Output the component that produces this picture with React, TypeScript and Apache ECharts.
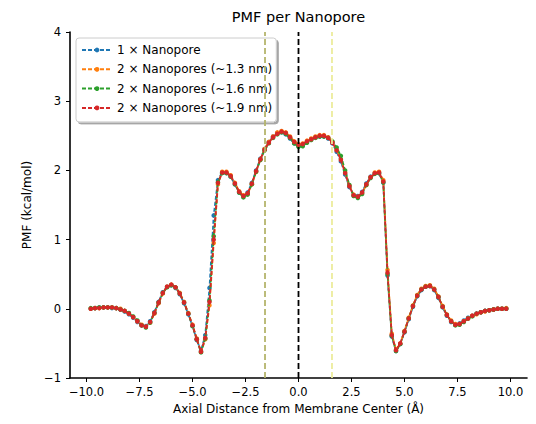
import React, { useEffect, useRef } from "react";
import * as echarts from "echarts";

const FONT = "DejaVu Sans";

const titleText = "PMF per Nanopore";
const xAxisName = "Axial Distance from Membrane Center (Å)";
const yAxisName = "PMF (kcal/mol)";

const seriesNames = [
  "1 × Nanopore",
  "2 × Nanopores (~1.3 nm)",
  "2 × Nanopores (~1.6 nm)",
  "2 × Nanopores (~1.9 nm)",
];
const seriesColors = ["#1f77b4", "#ff7f0e", "#2ca02c", "#d62728"];

const xTicks = [-10, -7.5, -5, -2.5, 0, 2.5, 5, 7.5, 10];
const yTicks = [-1, 0, 1, 2, 3, 4];

const vLinePositions = [-1.58, 0, 1.58];
const vLineColors = ["#b5b56c", "#000000", "#ecec9c"];

const xs = [
  -9.8, -9.6, -9.4, -9.2, -9.0, -8.8, -8.6, -8.4, -8.2, -8.0,
  -7.8, -7.6, -7.4, -7.2, -7.0, -6.8, -6.6, -6.4, -6.2, -6.0,
  -5.8, -5.6, -5.4, -5.2, -5.0, -4.8, -4.6, -4.4, -4.2, -4.0,
  -3.8, -3.6, -3.4, -3.2, -3.0, -2.8, -2.6, -2.4, -2.2, -2.0,
  -1.8, -1.6, -1.4, -1.2, -1.0, -0.8, -0.6, -0.4, -0.2, 0.0,
  0.2, 0.4, 0.6, 0.8, 1.0, 1.2, 1.4, 1.6, 1.8, 2.0,
  2.2, 2.4, 2.6, 2.8, 3.0, 3.2, 3.4, 3.6, 3.8, 4.0,
  4.2, 4.4, 4.6, 4.8, 5.0, 5.2, 5.4, 5.6, 5.8, 6.0,
  6.2, 6.4, 6.6, 6.8, 7.0, 7.2, 7.4, 7.6, 7.8, 8.0,
  8.2, 8.4, 8.6, 8.8, 9.0, 9.2, 9.4, 9.6, 9.8,
];

const pmfOne = [
  0.0, 0.01, 0.02, 0.02, 0.02, 0.01, 0.01, -0.01, -0.04, -0.08,
  -0.13, -0.19, -0.24, -0.25, -0.18, -0.05, 0.1, 0.24, 0.32, 0.34,
  0.3, 0.21, 0.08, -0.08, -0.25, -0.45, -0.61, -0.38, 0.3, 1.35,
  1.86, 1.97, 1.96, 1.91, 1.8, 1.68, 1.63, 1.68, 1.82, 2.0,
  2.17, 2.31, 2.41, 2.49, 2.54, 2.55, 2.52, 2.46, 2.39, 2.35,
  2.37, 2.41, 2.45, 2.48, 2.49, 2.49, 2.46, 2.39, 2.27, 2.13,
  1.94, 1.76, 1.64, 1.63, 1.69, 1.81, 1.91, 1.96, 1.96, 1.82,
  0.48, -0.4, -0.61, -0.51, -0.34, -0.15, 0.03, 0.18, 0.27, 0.32,
  0.33, 0.27, 0.16, 0.02, -0.1, -0.19, -0.23, -0.21, -0.17, -0.13,
  -0.1, -0.07, -0.05, -0.03, -0.02, -0.01, 0.0, 0.0, 0.0,
];

const pmfTwo13 = [
  0.0, 0.01, 0.01, 0.02, 0.02, 0.02, 0.01, 0.0, -0.03, -0.07,
  -0.12, -0.18, -0.23, -0.26, -0.2, -0.07, 0.08, 0.22, 0.32, 0.35,
  0.31, 0.23, 0.1, -0.06, -0.23, -0.43, -0.62, -0.44, 0.05, 0.95,
  1.8, 1.98, 1.98, 1.93, 1.82, 1.7, 1.64, 1.66, 1.8, 1.98,
  2.16, 2.31, 2.41, 2.49, 2.55, 2.57, 2.55, 2.49, 2.42, 2.38,
  2.39, 2.43, 2.46, 2.49, 2.51, 2.51, 2.48, 2.41, 2.3, 2.16,
  1.97, 1.78, 1.65, 1.62, 1.67, 1.79, 1.9, 1.97, 1.98, 1.86,
  0.56, -0.36, -0.59, -0.5, -0.32, -0.13, 0.05, 0.2, 0.29, 0.33,
  0.34, 0.29, 0.18, 0.04, -0.08, -0.17, -0.22, -0.22, -0.18, -0.14,
  -0.1, -0.08, -0.05, -0.04, -0.02, -0.01, 0.0, 0.0, 0.01,
];

const pmfTwo16 = [
  0.01, 0.01, 0.02, 0.02, 0.02, 0.02, 0.01, -0.01, -0.03, -0.06,
  -0.11, -0.17, -0.24, -0.27, -0.2, -0.06, 0.09, 0.23, 0.31, 0.34,
  0.31, 0.22, 0.09, -0.07, -0.25, -0.44, -0.63, -0.43, 0.12, 1.05,
  1.83, 1.96, 1.96, 1.91, 1.8, 1.68, 1.61, 1.65, 1.8, 1.98,
  2.15, 2.29, 2.39, 2.47, 2.52, 2.55, 2.53, 2.47, 2.39, 2.34,
  2.35, 2.4, 2.44, 2.47, 2.49, 2.49, 2.47, 2.42, 2.33, 2.21,
  2.0, 1.79, 1.63, 1.6, 1.66, 1.79, 1.89, 1.95, 1.96, 1.83,
  0.5, -0.39, -0.61, -0.51, -0.33, -0.14, 0.04, 0.19, 0.28, 0.32,
  0.33, 0.28, 0.17, 0.03, -0.09, -0.18, -0.24, -0.23, -0.19, -0.14,
  -0.11, -0.07, -0.05, -0.03, -0.02, -0.01, 0.0, 0.0, 0.0,
];

const pmfTwo19 = [
  0.0, 0.01, 0.01, 0.02, 0.02, 0.02, 0.01, -0.01, -0.03, -0.07,
  -0.12, -0.18, -0.24, -0.26, -0.19, -0.06, 0.09, 0.23, 0.32, 0.35,
  0.31, 0.22, 0.09, -0.07, -0.24, -0.44, -0.62, -0.42, 0.1, 1.0,
  1.82, 1.97, 1.97, 1.92, 1.81, 1.69, 1.63, 1.67, 1.81, 1.99,
  2.16, 2.3, 2.4, 2.48, 2.53, 2.56, 2.54, 2.48, 2.41, 2.37,
  2.38, 2.42, 2.45, 2.48, 2.5, 2.5, 2.47, 2.4, 2.29, 2.15,
  1.96, 1.77, 1.64, 1.62, 1.68, 1.8, 1.9, 1.96, 1.97, 1.84,
  0.52, -0.38, -0.6, -0.5, -0.33, -0.14, 0.04, 0.19, 0.28, 0.32,
  0.33, 0.28, 0.17, 0.03, -0.09, -0.18, -0.23, -0.22, -0.18, -0.14,
  -0.1, -0.07, -0.05, -0.03, -0.02, -0.01, 0.0, 0.0, 0.0,
];

const allSeries = [pmfOne, pmfTwo13, pmfTwo16, pmfTwo19];

const fmt = (v: number, d: number) =>
  (v < 0 ? "\u2212" : "") + Math.abs(v).toFixed(d);

export default function App() {
  const ref = useRef<HTMLDivElement>(null);

  useEffect(() => {
    document.body.style.margin = "0";
    if (!ref.current) return;
    const chart = echarts.init(ref.current, undefined, { renderer: "svg" });

    const curveSeries = allSeries.map((ys, k) => ({
      name: seriesNames[k],
      type: "line",
      data: xs.map((x, i) => [x, ys[i]]),
      color: seriesColors[k],
      symbol: "circle",
      symbolSize: 4.5,
      showSymbol: true,
      lineStyle: { width: 1.8, type: [4, 2], color: seriesColors[k] },
      itemStyle: { color: seriesColors[k] },
      z: 2 + k,
      silent: true,
    }));

    const vLineSeries = vLinePositions.map((p, k) => ({
      name: "vline" + k,
      type: "line",
      data: [
        [p, yTicks[0]],
        [p, yTicks[yTicks.length - 1]],
      ],
      symbol: "none",
      lineStyle: { width: 1.8, type: [6, 3], color: vLineColors[k] },
      z: 10,
      silent: true,
    }));

    chart.setOption({
      animation: false,
      grid: { left: 70, right: 9, top: 32, bottom: 46, containLabel: false },
      graphic: [
        {
          type: "text",
          x: 298.5,
          y: 17,
          style: {
            text: titleText,
            align: "center",
            verticalAlign: "middle",
            fontSize: 14.5,
            fontFamily: FONT,
            fill: "#000",
          },
        },
      ],
      legend: {
        data: seriesNames,
        orient: "vertical",
        left: 76,
        top: 38,
        padding: [5.5, 4, 7.5, 5],
        itemWidth: 30,
        itemHeight: 6,
        itemGap: 6.3,
        backgroundColor: "#ffffff",
        borderColor: "#cccccc",
        borderWidth: 1,
        borderRadius: 3,
        shadowColor: "rgba(0,0,0,0.35)",
        shadowBlur: 1,
        shadowOffsetX: 2,
        shadowOffsetY: 2,
        textStyle: {
          fontSize: 12,
          lineHeight: 13,
          fontFamily: FONT,
          color: "#000",
        },
      },
      xAxis: {
        type: "value",
        min: -10.78,
        max: 10.78,
        name: xAxisName,
        nameLocation: "middle",
        nameGap: 31,
        nameTextStyle: {
          fontSize: 12,
          fontFamily: FONT,
          color: "#000",
          verticalAlign: "middle",
        },
        axisLine: { show: true, onZero: false, lineStyle: { color: "#000", width: 1.6 } },
        axisTick: {
          show: true,
          customValues: xTicks,
          length: 4,
          inside: false,
          lineStyle: { color: "#000", width: 1 },
        },
        axisLabel: {
          customValues: xTicks,
          formatter: (v: number) => fmt(v, 1),
          fontSize: 11.5,
          fontFamily: FONT,
          color: "#000",
          margin: 8,
        },
        splitLine: { show: false },
      },
      yAxis: {
        type: "value",
        min: -1,
        max: 4,
        interval: 1,
        name: yAxisName,
        nameLocation: "middle",
        nameGap: 40,
        nameTextStyle: {
          fontSize: 12,
          fontFamily: FONT,
          color: "#000",
          verticalAlign: "middle",
        },
        axisLine: { show: true, onZero: false, lineStyle: { color: "#000", width: 1.6 } },
        axisTick: { show: true, length: 4, inside: false, lineStyle: { color: "#000", width: 1 } },
        axisLabel: {
          formatter: (v: number) => fmt(v, 0),
          fontSize: 11.5,
          fontFamily: FONT,
          color: "#000",
          margin: 9,
        },
        splitLine: { show: false },
      },
      series: [...curveSeries, ...vLineSeries],
    });

    return () => chart.dispose();
  }, []);

  return (
    <div
      ref={ref}
      style={{ position: "fixed", left: 0, top: 0, width: 536, height: 424, background: "#fff" }}
    />
  );
}
